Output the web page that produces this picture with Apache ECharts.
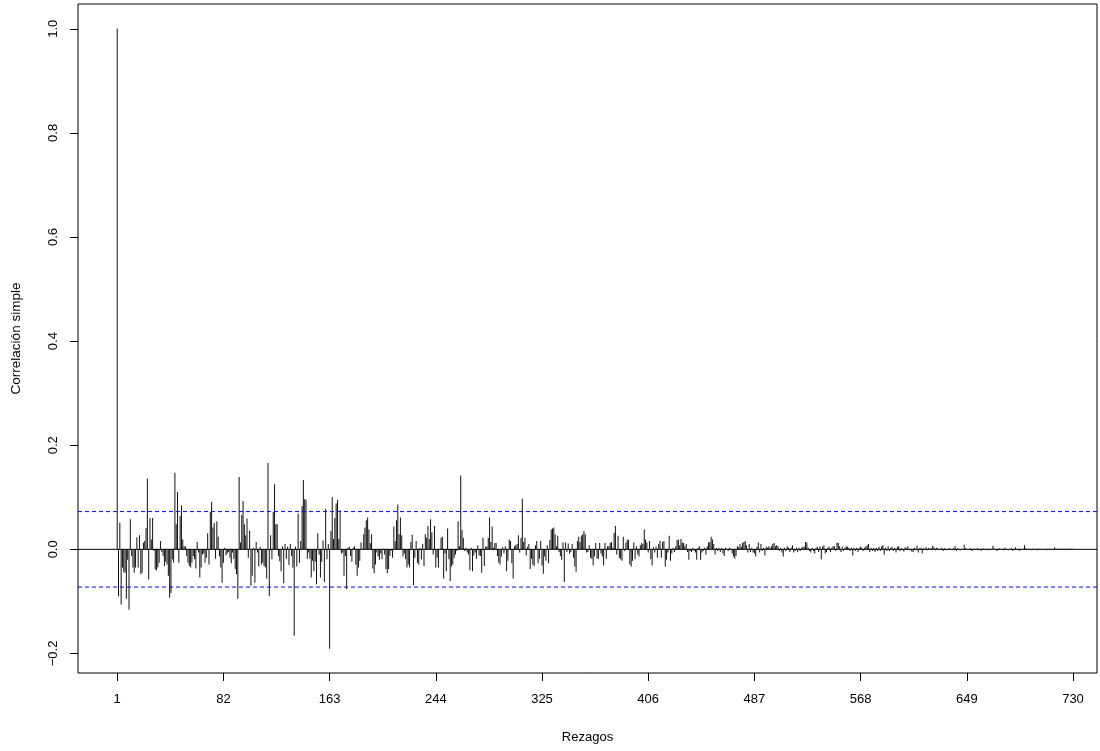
<!DOCTYPE html>
<html>
<head>
<meta charset="utf-8">
<script src="https://cdn.jsdelivr.net/npm/echarts@6/dist/echarts.min.js"></script>
<style>html,body{margin:0;padding:0;background:#fff}#c{width:1100px;height:751px}</style>
</head>
<body>
<div id="c"></div>
<script>
// ACF values by lag (lag labels start at 1)
const acfA = [1.0, -0.09, 0.051, -0.106, -0.035, -0.044, -0.045, -0.095, -0.02, -0.116, 0.058, -0.013, -0.035, -0.045, -0.035, 0.023, -0.035, 0.027, -0.048, -0.045, 0.013, 0.016, 0.041, 0.136, -0.058, 0.06, 0.019, 0.06, -0.003, -0.039, -0.04, -0.035, -0.026, 0.016, -0.005, -0.013, -0.032, -0.024, -0.029, -0.051, -0.093, -0.084, -0.019, -0.026, 0.147, 0.048, 0.11, -0.026, 0.064, 0.084, 0.019, 0.006, 0.006, -0.013, -0.026, -0.032, -0.035];
const acfB = [-0.026, -0.013, -0.019, -0.037, 0.014, -0.006, -0.054, -0.035, -0.01, -0.008, -0.026, -0.016, 0.031, -0.029, 0.072, 0.091, 0.042, 0.05, -0.018, 0.054, 0.024, -0.014, -0.035, -0.064, -0.026, 0.003, -0.012, -0.008, -0.005, -0.016, -0.027, -0.006, -0.018, -0.038, -0.048, -0.095, 0.139, 0.013, 0.066, 0.093, 0.048, 0.027, 0.059, -0.016, 0.036, -0.07, -0.051, 0.003, -0.064, 0.014, -0.006, -0.033, 0.005, -0.029, -0.026, -0.032, -0.035, -0.056, 0.166];
const acfC = [-0.09, 0.027, -0.019, 0.072, 0.125, 0.048, 0.048, -0.013, -0.023, -0.042, 0.006, -0.065, 0.01, -0.018, 0.005, -0.03, 0.01, -0.013, -0.035, -0.166, 0.005, -0.033, 0.069, -0.026, 0.016, 0.083, 0.133, 0.096, 0.095, -0.018, -0.006, -0.018, -0.054, -0.022, -0.042, -0.024, -0.067, 0.031, -0.01, -0.054, -0.024, 0.017, -0.063, 0.078, -0.019, 0.01, -0.191, 0.035, 0.1, 0.02, 0.06, 0.088, 0.095, 0.02, 0.075, -0.008, -0.006, -0.051, -0.013];
const acfD = [-0.076, 0.003, 0.005, -0.013, -0.024, 0.003, 0.006, -0.029, -0.051, -0.035, -0.022, 0.013, 0.001, 0.029, 0.042, 0.056, 0.061, 0.038, 0.012, 0.029, -0.037, -0.046, -0.029, -0.006, -0.014, -0.02, -0.008, -0.019, 0.001, -0.01, -0.038, -0.046, -0.038, -0.013, -0.003, -0.016, 0.044, 0.016, 0.056, 0.086, 0.029, 0.061, 0.027, -0.014, -0.008, -0.019, -0.035, -0.029, -0.035, 0.014, 0.028, -0.069, -0.016, 0.016, -0.026, -0.029, 0.003, -0.019, 0.01];
const acfE = [-0.032, 0.029, 0.022, 0.045, 0.02, 0.058, 0.033, -0.01, 0.045, -0.035, -0.016, -0.035, 0.001, 0.022, 0.024, -0.056, -0.008, -0.042, 0.04, -0.019, -0.061, -0.033, -0.029, -0.016, -0.01, -0.003, 0.054, 0.006, 0.142, 0.037, 0.022, -0.003, 0.003, -0.006, -0.01, -0.04, 0.003, -0.042, -0.012, -0.006, -0.018, 0.008, -0.012, -0.013, -0.045, 0.022, -0.032, 0.005, 0.006, 0.022, 0.061, 0.014, 0.044, 0.003, 0.012, 0.012, -0.013, -0.026, -0.029];
const acfF = [-0.014, 0.004, -0.008, 0.006, -0.042, -0.022, 0.019, 0.016, -0.027, -0.056, 0.006, 0.008, 0.01, 0.027, -0.006, 0.022, 0.097, 0.014, 0.022, -0.012, 0.005, 0.01, -0.038, -0.018, -0.029, -0.032, 0.008, 0.016, -0.027, -0.018, 0.016, -0.031, -0.047, -0.014, -0.022, 0.008, -0.027, 0.018, 0.038, 0.04, 0.042, 0.029, 0.006, 0.026, -0.005, -0.013, -0.02, 0.013, -0.063, 0.013, -0.005, 0.011, -0.008, -0.005, 0.01, -0.016, -0.033, -0.043];
const acfG = [0.016, 0.024, 0.014, 0.026, 0.029, 0.035, 0.029, -0.006, -0.005, 0.008, -0.016, -0.018, -0.031, -0.014, 0.012, -0.018, -0.018, 0.012, -0.008, -0.014, -0.031, 0.012, -0.018, 0.006, 0.006, 0.012, 0.014, 0.003, 0.032, 0.045, -0.01, 0.026, -0.016, -0.019, -0.022, 0.024, -0.003, 0.013, 0.019, 0.018, -0.029, -0.033, -0.022, 0.013, -0.019, 0.006, -0.01, -0.014, 0.008, 0.012, 0.01, 0.038, 0.019, 0.013, -0.006, 0.016, -0.019, -0.031, 0.004, -0.006, 0.005];
const acfH = [-0.016, 0.01, 0.016, -0.016, 0.014, 0.016, -0.033, -0.02, -0.006, 0.026, -0.022, -0.008, 0.003, -0.005, 0.006, 0.018, 0.019, 0.008, 0.02, 0.013, 0.012, 0.006, 0.01, -0.005, -0.02, -0.003, -0.005, 0.003, -0.003, -0.006, -0.02, 0.003, 0.006, -0.02, -0.006, -0.003, 0.003, -0.01, 0.006, 0.013, 0.014, 0.024, 0.019, 0.01, -0.01, 0.003, -0.003, 0.003, -0.005, 0.003, -0.008, -0.013, 0.003, 0.001, -0.003, 0.003, 0.001, -0.008, -0.014, -0.018];
const acfI = [-0.013, 0.006, 0.004, 0.01, 0.005, 0.012, 0.014, 0.016, 0.008, -0.006, 0.01, -0.005, 0.003, -0.006, -0.008, -0.014, 0.005, 0.013, -0.006, 0.01, -0.003, 0.003, -0.012, 0.005, 0.003, 0.006, 0.003, 0.006, 0.01, 0.012, 0.006, 0.008, 0.006, -0.003, 0.003, -0.006, -0.014, 0.003, -0.003, 0.006, 0.003, -0.005, 0.003, 0.008, -0.006, -0.003, 0.003, -0.005, 0.003, -0.003, 0.003, 0.005, 0.005, 0.014, 0.013, 0.003, -0.003, -0.006, 0.003, -0.003, -0.008, 0.003, 0.005, -0.005, 0.006, -0.019, 0.005, 0.008, -0.008, -0.005, 0.003, 0.005, -0.005, 0.003, 0.006, 0.006, -0.003, 0.013, 0.012, 0.006, -0.005, 0.005, -0.003, 0.003, 0.006, 0.005, 0.003, -0.003, 0.003, -0.012, 0.003, -0.003, 0.003, -0.005, 0.003, 0.005, 0.003, -0.003, 0.003, 0.006, 0.008, 0.01, -0.005, 0.003, -0.003, 0.003, -0.005, 0.003, -0.003, 0.005, -0.003, 0.006, 0.008, -0.01, 0.003, -0.003, 0.006, -0.003, 0.003, 0.005, -0.003, 0.003, -0.006, 0.005, 0.006, -0.003];
const acfJ = [0.003, -0.002, -0.004, 0.004, 0.002, 0.006, -0.002, 0.001, -0.004, -0.005, 0.003, -0.002, 0.007, -0.006, 0.002, 0.003, -0.008, 0.002, 0.001, 0.004, -0.002, 0.003, 0.001, 0.002, 0.007, 0.004, -0.002, 0.003, 0.002, -0.001, 0.001, 0.003, -0.003, 0.002, 0.001, -0.002, 0.001, 0.002, -0.001, 0.001, 0.002, 0.006, -0.003, 0.002, 0.001, -0.002, 0.001, -0.001, 0.009, 0.002, 0.001, -0.001, 0.001, 0.002, -0.003, 0.001, -0.001, 0.001, 0.002, -0.002, 0.001, -0.003, 0.001, 0.002, -0.001, 0.001, -0.002, 0.001, 0.001, -0.001, 0.007, 0.001, -0.001, -0.003, 0.001, 0.002, -0.001, 0.001, -0.002, 0.003, 0.001, -0.001, -0.002, 0.001, 0.002, -0.003, 0.001, 0.004, -0.001, 0.001, -0.003, 0.001, -0.001, 0.001, 0.008, 0.002, -0.001, 0.001, -0.001, -0.002, 0.001, 0.001, -0.001, 0.001, -0.002, 0.001, 0.001, -0.001, 0.001, -0.001, 0.001, -0.002, 0.001, 0.001, 0.001, -0.001, 0.001, 0.004, -0.001, 0.001, -0.001, 0.001, 0.001, -0.001, 0.001, 0.001, -0.001, 0.001, 0.001, 0.001, 0.001, 0.001];
const xTicks = [1, 82, 163, 244, 325, 406, 487, 568, 649, 730];
const yTicks = [-0.2, 0.0, 0.2, 0.4, 0.6, 0.8, 1.0];
const ciBand = 0.0725;
const xTitle = 'Rezagos';
const yTitle = 'Correlación simple';

const acf = [].concat(acfA, acfB, acfC, acfD, acfE, acfF, acfG, acfH, acfI, acfJ);
const points = acf.map((v, i) => [i + 1, v]);

const xMin = -28.9, xMax = 748.3;
const font = 'Liberation Sans, Arial, Helvetica, sans-serif';
function hline(val, color, type, z) {
  return {
    type: 'line', silent: true, z: z, symbol: 'none', showSymbol: false,
    data: [[xMin, val], [xMax, val]],
    lineStyle: {color: color, type: type, width: 1},
    itemStyle: {color: color}
  };
}
const chart = echarts.init(document.getElementById('c'), null, {renderer: 'canvas'});
chart.setOption({
  animation: false,
  backgroundColor: '#fff',
  grid: {left: 78, right: 3, top: 4, bottom: 78, show: true, borderColor: '#000', borderWidth: 1, backgroundColor: 'transparent'},
  xAxis: {
    type: 'value', min: xMin, max: xMax,
    name: xTitle, nameLocation: 'middle', nameGap: 58,
    nameTextStyle: {fontFamily: font, fontSize: 13, color: '#000'},
    axisLine: {show: false, onZero: false},
    splitLine: {show: false},
    axisTick: {show: true, length: 8, lineStyle: {color: '#000'}, customValues: xTicks},
    axisLabel: {customValues: xTicks, margin: 20, fontFamily: font, fontSize: 13, color: '#000', formatter: v => String(Math.round(v))}
  },
  yAxis: {
    type: 'value', min: -0.2376, max: 1.0476,
    name: yTitle, nameLocation: 'middle', nameGap: 55, nameRotate: 90,
    nameTextStyle: {fontFamily: font, fontSize: 13.5, color: '#000'},
    axisLine: {show: false, onZero: false},
    splitLine: {show: false},
    axisTick: {show: true, length: 8, lineStyle: {color: '#000'}, customValues: yTicks},
    axisLabel: {customValues: yTicks, rotate: 90, margin: 18, fontFamily: font, fontSize: 13, color: '#000',
      formatter: v => { const r = Math.round(v * 10) / 10; return r < 0 ? '\u2212' + Math.abs(r).toFixed(1) : r.toFixed(1); }}
  },
  series: [
    {
      type: 'bar',
      data: points,
      barWidth: 1,
      itemStyle: {color: '#111'},
      silent: true,
      z: 2
    },
    hline(0, '#000000', 'solid', 3),
    hline(ciBand, '#0000ff', [4, 3], 4),
    hline(-ciBand, '#0000ff', [4, 3], 4)
  ]
});
</script>
</body>
</html>
